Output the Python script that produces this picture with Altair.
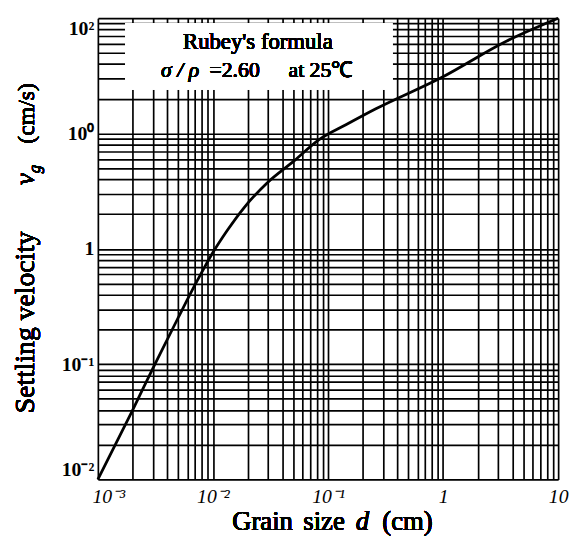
import altair as alt
import pandas as pd

# Curve: grain size d (cm) vs settling velocity v_g (cm/s)
grain_size = [0.001, 0.002, 0.00308, 0.00496, 0.00736, 0.0099, 0.0133, 0.0186,
              0.0294, 0.0501, 0.0837, 0.143, 0.258, 0.97, 3.58, 10]
velocity = [0.01, 0.0398, 0.0966, 0.25, 0.537, 0.914, 1.44, 2.27,
            3.71, 5.73, 8.84, 11.9, 16.3, 30.6, 63.5, 100]

x_grid = [round(m * 10.0 ** e, 6) for e in range(-3, 1) for m in range(1, 10)] + [10]
y_grid = [round(m * 10.0 ** e, 6) for e in range(-2, 2) for m in range(1, 10)] + [100]

x_labels = {0.001: "10⁻³", 0.01: "10⁻²", 0.1: "10⁻¹", 1: "1", 10: "10"}
y_labels = {0.01: "10⁻²", 0.1: "10⁻¹", 1: "1", 10: "10⁰", 100: "10²"}


def label_expr(mapping):
    expr = "''"
    for k, v in reversed(list(mapping.items())):
        expr = f"datum.value == {k} ? '{v}' : ({expr})"
    return expr


df = pd.DataFrame({"d": grain_size, "v": velocity})

W, H = 466, 467
SERIF = "'Liberation Serif', 'Times New Roman', Times, serif"

x_scale = alt.Scale(type="log", domain=[0.001, 10], nice=False)
y_scale = alt.Scale(type="log", domain=[0.01, 100], nice=False)

curve = alt.Chart(df).mark_line(color="black", strokeWidth=2.8, interpolate="monotone").encode(
    x=alt.X("d:Q", scale=x_scale, axis=alt.Axis(
        values=x_grid, labelExpr=label_expr(x_labels), grid=True, gridColor="black",
        gridWidth=1.7, gridOpacity=1, ticks=False, domain=False, title=None,
        labelFont=SERIF, labelFontSize=20, labelFontStyle="italic", labelColor="black",
        labelPadding=7, labelFlush=False, labelOverlap=False,
        labelAlign={"condition": {"test": "datum.value == 0.001", "value": "left"}, "value": "center"},
        labelOffset={"condition": {"test": "datum.value == 0.001", "value": -6}, "value": 0})),
    y=alt.Y("v:Q", scale=y_scale, axis=alt.Axis(
        values=y_grid, labelExpr=label_expr(y_labels), grid=True, gridColor="black",
        gridWidth=1.7, gridOpacity=1, ticks=False, domain=False, title=None,
        labelFont=SERIF, labelFontSize=20, labelFontWeight="bold", labelColor="black",
        labelPadding=4, labelFlush=True, labelOverlap=False)),
)

box = alt.Chart(df).mark_rect(color="white", opacity=1).encode(
    x=alt.value(28), x2=alt.value(298), y=alt.value(5), y2=alt.value(72)
)


def txt(text, x, y, size, style="normal", align="left", angle=0, font=SERIF, baseline="alphabetic"):
    kw = dict(text=text, fontSize=size, font=font, fontStyle=style, fontWeight="normal",
              align=align, baseline=baseline, color="black")
    if angle:
        kw["angle"] = angle
    return alt.Chart(df).mark_text(**kw).encode(x=alt.value(x), y=alt.value(y))


texts = [
    txt("Rubey's formula", 162, 31, 23, align="center"),
    txt("σ / ρ", 64, 60, 22, style="italic"),
    txt("=2.60", 113, 60, 22),
    txt("at 25℃", 193, 60, 22),
    # x title
    txt("Grain", 136, 518, 27),
    txt("size", 208, 518, 27),
    txt("d", 261, 518, 27, style="italic"),
    txt("(cm)", 288, 518, 27),
    # y title
    txt("Settling velocity", -65, 400, 28, angle=270),
    txt("v", -65, 169, 27, style="italic", angle=270),
    txt("g", -59, 157, 17, style="italic", angle=270),
    txt("(cm/s)", -65, 127, 24, angle=270),
]

chart = alt.layer(curve, box, *texts).properties(
    width=W, height=H,
    autosize=alt.AutoSizeParams(type="none"),
    padding={"left": 91, "top": 7, "right": 11, "bottom": 60},
).configure_view(stroke="black", strokeWidth=2).configure(background="white")

chart.save("out.html", embed_options={"renderer": "svg", "actions": False})
